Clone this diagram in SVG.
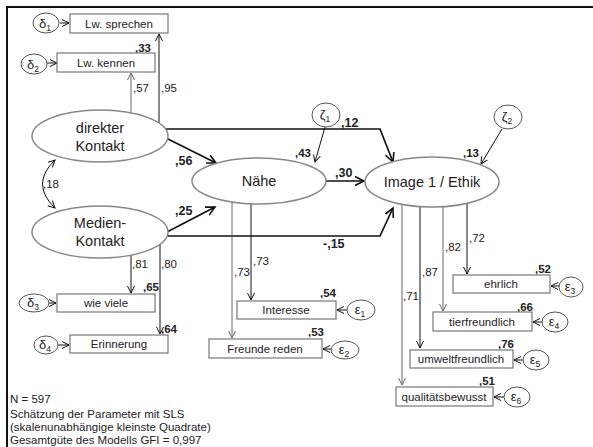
<svg xmlns="http://www.w3.org/2000/svg" width="593" height="447" viewBox="0 0 593 447">
<defs>
<marker id="a" markerUnits="userSpaceOnUse" markerWidth="10" markerHeight="10" refX="7" refY="4" orient="auto-start-reverse"><path d="M0,0.5 L7,4 L0,7.5" fill="none" stroke="#111" stroke-width="1"/></marker>
<marker id="ag" markerUnits="userSpaceOnUse" markerWidth="10" markerHeight="10" refX="7" refY="4" orient="auto"><path d="M0,0.5 L7,4 L0,7.5" fill="none" stroke="#666" stroke-width="1"/></marker>
<marker id="ab" markerUnits="userSpaceOnUse" markerWidth="12" markerHeight="12" refX="9" refY="5" orient="auto"><path d="M0,0.5 L9,5 L0,9.5" fill="none" stroke="#111" stroke-width="1.6"/></marker>
<style>
text{font-family:"Liberation Sans",Arial,sans-serif;fill:#222}
.box{fill:#fff;stroke:#777;stroke-width:1.2}
.lat{fill:#fff;stroke:#888;stroke-width:1.5}
.err{fill:#fff;stroke:#555;stroke-width:1}
.bl{font-size:11.5px;text-anchor:middle}
.el{font-size:14.5px;text-anchor:middle}
.g{font-size:13px;text-anchor:middle}
.sub{font-size:8.5px}
.n{font-size:11.5px}
.r2{font-size:11.5px;font-weight:bold}
.p{font-size:12.5px;font-weight:bold}
.c{fill:none;stroke:#111;stroke-width:1}
.cg{fill:none;stroke:#666;stroke-width:1}
.cb{fill:none;stroke:#111;stroke-width:1.7}
</style>
</defs>
<rect width="593" height="447" fill="#fff"/>
<path d="M7,447 V7 H593" fill="none" stroke="#111" stroke-width="2"/>

<g id="connectors">
<line class="c" x1="60" y1="23" x2="69" y2="23" marker-end="url(#a)"/>
<line class="c" x1="47" y1="63" x2="57" y2="63" marker-end="url(#a)"/>
<line class="cg" x1="131" y1="113" x2="131" y2="73" marker-end="url(#ag)"/>
<line class="c" x1="159" y1="123" x2="159" y2="34" marker-end="url(#a)"/>
<line class="c" x1="131" y1="255" x2="131" y2="293" marker-end="url(#a)"/>
<line class="c" x1="160" y1="244" x2="160" y2="334" marker-end="url(#a)"/>
<line class="c" x1="49" y1="303" x2="56" y2="303" marker-end="url(#a)"/>
<line class="c" x1="58" y1="345" x2="69" y2="345" marker-end="url(#a)"/>
<path class="c" d="M55,160 Q30,184 55,208" marker-start="url(#a)" marker-end="url(#a)"/>
<line class="cb" x1="168" y1="139" x2="216" y2="163" marker-end="url(#ab)"/>
<polyline class="cb" points="166,129 380,129 393,162" marker-end="url(#ab)"/>
<line class="cb" x1="167" y1="232" x2="215" y2="207" marker-end="url(#ab)"/>
<polyline class="cb" points="167,236 380,236 393,208" marker-end="url(#ab)"/>
<line class="cb" x1="326" y1="181" x2="364" y2="181" marker-end="url(#ab)"/>
<line class="c" x1="325" y1="127" x2="315" y2="162" marker-end="url(#a)"/>
<line class="c" x1="502" y1="129" x2="481" y2="164" marker-end="url(#a)"/>
<line class="cg" x1="232" y1="203" x2="232" y2="338" marker-end="url(#ag)"/>
<line class="c" x1="251" y1="204" x2="251" y2="300" marker-end="url(#a)"/>
<line class="c" x1="347" y1="310" x2="337" y2="310" marker-end="url(#a)"/>
<line class="c" x1="331" y1="349" x2="323" y2="349" marker-end="url(#a)"/>
<line class="c" x1="467" y1="203" x2="467" y2="274" marker-end="url(#a)"/>
<line class="cg" x1="443" y1="207" x2="443" y2="311" marker-end="url(#ag)"/>
<line class="c" x1="420" y1="207" x2="420" y2="348" marker-end="url(#a)"/>
<line class="cg" x1="402" y1="205" x2="402" y2="385" marker-end="url(#ag)"/>
<line class="c" x1="559" y1="286" x2="551" y2="286" marker-end="url(#a)"/>
<line class="c" x1="542" y1="322" x2="533" y2="322" marker-end="url(#a)"/>
<line class="c" x1="523" y1="360" x2="514" y2="360" marker-end="url(#a)"/>
<line class="c" x1="504" y1="397" x2="494" y2="397" marker-end="url(#a)"/>
</g>

<g id="labels">
<text class="r2" x="135" y="52">,33</text>
<text class="n" x="133" y="92">,57</text>
<text class="n" x="161" y="92">,95</text>
<text class="n" x="132" y="268">,81</text>
<text class="n" x="161" y="268">,80</text>
<text class="r2" x="143" y="291">,65</text>
<text class="r2" x="161" y="333">,64</text>
<text class="n" x="43" y="188">,18</text>
<text class="p" x="175" y="165">,56</text>
<text class="p" x="175" y="215">,25</text>
<text class="p" x="341" y="127">,12</text>
<text class="r2" x="295" y="157">,43</text>
<text class="p" x="335" y="177">,30</text>
<text class="p" x="323" y="248">-,15</text>
<text class="r2" x="463" y="157">,13</text>
<text class="n" x="234" y="276">,73</text>
<text class="n" x="253" y="265">,73</text>
<text class="r2" x="320" y="297">,54</text>
<text class="r2" x="308" y="336">,53</text>
<text class="n" x="469" y="242">,72</text>
<text class="n" x="445" y="251">,82</text>
<text class="n" x="422" y="276">,87</text>
<text class="n" x="403" y="300">,71</text>
<text class="r2" x="535" y="273">,52</text>
<text class="r2" x="517" y="311">,66</text>
<text class="r2" x="498" y="348">,76</text>
<text class="r2" x="479" y="385">,51</text>
</g>

<g id="d1"><ellipse class="err" cx="46" cy="23" rx="13" ry="10"/><text class="g" x="45" y="28">δ<tspan class="sub" dy="3">1</tspan></text></g>
<g id="lw_sprechen"><rect class="box" x="70" y="14" width="98" height="19"/><text class="bl" x="119" y="28">Lw. sprechen</text></g>
<g id="d2"><ellipse class="err" cx="34" cy="64" rx="13" ry="10"/><text class="g" x="33" y="69">δ<tspan class="sub" dy="3">2</tspan></text></g>
<g id="lw_kennen"><rect class="box" x="57" y="53" width="98" height="19"/><text class="bl" x="106" y="67">Lw. kennen</text></g>

<g id="direkter_kontakt"><ellipse class="lat" cx="100" cy="136" rx="68" ry="26"/><text class="el" x="100" y="133">direkter</text><text class="el" x="100" y="151">Kontakt</text></g>
<g id="medien_kontakt"><ellipse class="lat" cx="100" cy="232" rx="68" ry="26"/><text class="el" x="100" y="228">Medien-</text><text class="el" x="100" y="246">Kontakt</text></g>

<g id="d3"><ellipse class="err" cx="34" cy="303" rx="15" ry="9"/><text class="g" x="33" y="307">δ<tspan class="sub" dy="3">3</tspan></text></g>
<g id="wie_viele"><rect class="box" x="57" y="294" width="98" height="18"/><text class="bl" x="106" y="307">wie viele</text></g>
<g id="d4"><ellipse class="err" cx="46" cy="345" rx="12" ry="9"/><text class="g" x="45" y="349">δ<tspan class="sub" dy="3">4</tspan></text></g>
<g id="erinnerung"><rect class="box" x="70" y="335" width="98" height="18"/><text class="bl" x="119" y="348">Erinnerung</text></g>

<g id="naehe"><ellipse class="lat" cx="259" cy="181" rx="67" ry="23"/><text class="el" x="259" y="186">Nähe</text></g>
<g id="z1"><ellipse class="err" cx="326" cy="115" rx="14" ry="12"/><text class="g" x="325" y="119">ζ<tspan class="sub" dy="3">1</tspan></text></g>
<g id="image"><ellipse class="lat" cx="432" cy="182" rx="67" ry="25"/><text class="el" x="432" y="187">Image 1 / Ethik</text></g>
<g id="z2"><ellipse class="err" cx="508" cy="117" rx="14" ry="12"/><text class="g" x="507" y="121">ζ<tspan class="sub" dy="3">2</tspan></text></g>

<g id="interesse"><rect class="box" x="237" y="301" width="99" height="18"/><text class="bl" x="286" y="314">Interesse</text></g>
<g id="e1"><ellipse class="err" cx="361" cy="310" rx="14" ry="10"/><text class="g" x="360" y="314">ε<tspan class="sub" dy="3">1</tspan></text></g>
<g id="freunde_reden"><rect class="box" x="209" y="339" width="113" height="19"/><text class="bl" x="265" y="353">Freunde reden</text></g>
<g id="e2"><ellipse class="err" cx="345" cy="350" rx="14" ry="9"/><text class="g" x="344" y="354">ε<tspan class="sub" dy="3">2</tspan></text></g>

<g id="ehrlich"><rect class="box" x="453" y="275" width="97" height="18"/><text class="bl" x="501" y="288">ehrlich</text></g>
<g id="e3"><ellipse class="err" cx="571" cy="287" rx="12" ry="10"/><text class="g" x="570" y="291">ε<tspan class="sub" dy="3">3</tspan></text></g>
<g id="tierfreundlich"><rect class="box" x="433" y="312" width="99" height="19"/><text class="bl" x="482" y="326">tierfreundlich</text></g>
<g id="e4"><ellipse class="err" cx="555" cy="322" rx="13" ry="10"/><text class="g" x="554" y="326">ε<tspan class="sub" dy="3">4</tspan></text></g>
<g id="umweltfreundlich"><rect class="box" x="410" y="350" width="103" height="18"/><text class="bl" x="461" y="363">umweltfreundlich</text></g>
<g id="e5"><ellipse class="err" cx="536" cy="360" rx="13" ry="10"/><text class="g" x="535" y="364">ε<tspan class="sub" dy="3">5</tspan></text></g>
<g id="qualitaetsbewusst"><rect class="box" x="396" y="387" width="97" height="19"/><text class="bl" x="444" y="401">qualitätsbewusst</text></g>
<g id="e6"><ellipse class="err" cx="517" cy="397" rx="13" ry="10"/><text class="g" x="516" y="401">ε<tspan class="sub" dy="3">6</tspan></text></g>

<g id="notes" font-size="11.5px">
<text x="10" y="403" style="font-size:11.5px">N = 597</text>
<text x="10" y="418" style="font-size:11.5px">Schätzung der Parameter mit SLS</text>
<text x="10" y="431" style="font-size:11.5px">(skalenunabhängige kleinste Quadrate)</text>
<text x="10" y="444" style="font-size:11.5px">Gesamtgüte des Modells GFI = 0,997</text>
</g>
</svg>
